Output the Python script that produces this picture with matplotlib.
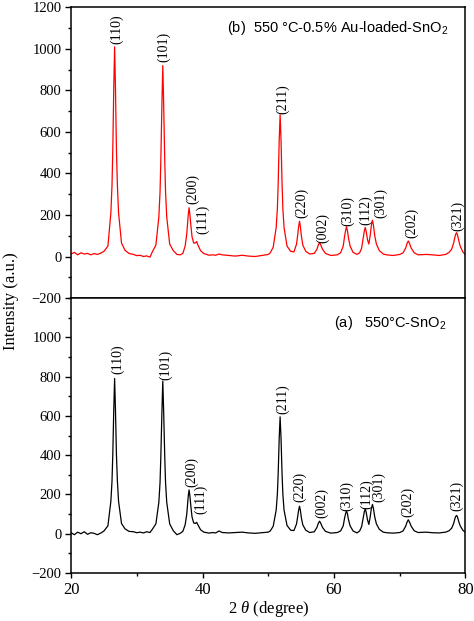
import matplotlib
matplotlib.use("Agg")
import matplotlib.pyplot as plt
from matplotlib.ticker import MultipleLocator

plt.rcParams['font.family'] = ['Liberation Serif', 'DejaVu Serif']
plt.rcParams['mathtext.fontset'] = 'custom'
plt.rcParams['mathtext.rm'] = 'Liberation Serif'
plt.rcParams['mathtext.it'] = 'Liberation Serif:italic'
plt.rcParams['mathtext.sf'] = 'Liberation Sans'

# ---- data: 2theta (degree) and intensity (a.u.) ----
two_theta = [20.0, 20.5, 21.0, 21.5, 22.0, 22.5, 23.0, 23.5, 24.0, 24.5,
             25.0, 25.6, 26.05, 26.22, 26.34, 26.49, 26.62, 26.75, 26.9, 27.04, 27.22, 27.67, 28.2, 28.8,
             29.5, 30.0, 30.5, 31.0, 31.5, 32.0,
             32.35, 32.9, 33.35, 33.53, 33.65, 33.82, 33.95, 34.08, 34.25, 34.37, 34.55, 35.0, 35.55, 36.1,
             36.6, 37.0,
             37.35, 37.6, 37.72, 37.82, 37.95, 38.08, 38.22, 38.4, 38.65, 38.9, 39.1, 39.3, 39.7, 40.2,
             41.0, 41.5, 42.0, 42.5, 43.0, 44.0, 45.0, 46.0, 47.0, 48.0, 49.0, 50.0,
             50.3, 50.75, 51.2, 51.38, 51.5, 51.66, 51.8, 51.94, 52.1, 52.22, 52.4, 52.85, 53.4,
             53.9, 54.3, 54.48, 54.62, 54.75, 54.88, 55.03, 55.25, 55.7, 56.3,
             57.0, 57.4, 57.6, 57.8, 58.0, 58.25, 58.7,
             59.5, 60.5,
             61.0, 61.4, 61.6, 61.76, 61.9, 62.04, 62.2, 62.45, 62.9, 63.5,
             63.9, 64.2, 64.45, 64.62, 64.75, 64.9, 65.1, 65.3, 65.5, 65.68, 65.85, 66.0, 66.2, 66.45,
             66.9, 67.5,
             68.0, 69.0, 70.0,
             70.5, 70.9, 71.1, 71.3, 71.5, 71.75, 72.2, 72.8,
             74.0, 75.0, 76.0, 77.0, 77.5,
             77.9, 78.2, 78.4, 78.52, 78.65, 78.78, 78.95, 79.2, 79.6, 80.0]

# (b) 550 C - 0.5% Au-loaded SnO2
intensity_b = [12, 20, 8, 18, 12, 15, 8, 14, 10, 16,
               25, 50, 210, 340, 510, 810, 1010, 810, 510, 345, 210, 65, 30, 15,
               10, 4, 6, 0, 3, -3,
               22, 55, 190, 310, 460, 740, 920, 740, 460, 310, 190, 60, 28, 10,
               8, 15,
               50, 110, 160, 200, 235, 200, 150, 95, 65, 65, 72, 55, 28, 14,
               6, 8, 6, 12, 8, 5, 2, 6, 2, 0, 5, 10,
               18, 45, 140, 230, 345, 560, 683, 560, 345, 230, 140, 50, 25,
               22, 60, 105, 145, 170, 145, 100, 55, 25, 12,
               15, 35, 55, 67, 55, 35, 15,
               5, 8,
               18, 50, 95, 125, 143, 125, 90, 50, 20, 10,
               18, 40, 90, 125, 140, 120, 80, 60, 100, 150, 175, 150, 100, 60,
               28, 12,
               8, 5, 10,
               18, 40, 62, 75, 62, 40, 18, 8,
               10, 8, 5, 10, 20,
               35, 65, 95, 108, 115, 105, 80, 50, 22, 8]

# (a) 550 C - SnO2
intensity_a = [5, -5, 8, 0, 10, -3, 5, 2, -5, 3,
               14, 40, 165, 265, 400, 630, 790, 630, 400, 270, 165, 52, 25, 12,
               10, 5, 8, 4, 10, 6,
               22, 50, 160, 260, 390, 625, 777, 625, 390, 260, 160, 50, 15, -5,
               2, 12,
               45, 100, 150, 190, 223, 190, 140, 85, 55, 52, 58, 45, 20, 8,
               3, 6, 4, 14, 6, 4, 6, 8, 4, 2, 5, 8,
               14, 38, 120, 200, 300, 485, 595, 485, 300, 200, 120, 42, 18,
               16, 50, 88, 120, 140, 120, 82, 45, 18, 6,
               10, 32, 52, 64, 52, 32, 12,
               3, 6,
               14, 40, 78, 102, 115, 102, 72, 40, 14, 4,
               14, 36, 82, 113, 127, 108, 70, 47, 85, 128, 149, 128, 85, 50,
               22, 8,
               5, 3, 6,
               14, 38, 58, 71, 58, 38, 15, 6,
               8, 5, 4, 8, 15,
               28, 52, 78, 88, 93, 86, 65, 40, 18, 6]

hkl = ['(110)', '(101)', '(200)', '(111)', '(211)', '(220)', '(002)',
       '(310)', '(112)', '(301)', '(202)', '(321)']
b_lab_x = [26.87, 34.13, 38.46, 40.08, 52.19, 55.09, 58.29, 62.1, 64.85, 67.03, 71.87, 78.83]
b_lab_y = [1024, 936, 255, 110, 688, 186, 66, 148, 154, 186, 90, 123]
a_lab_x = [27.03, 34.36, 38.4, 39.67, 52.2, 54.73, 58.12, 61.9, 64.94, 66.86, 71.25, 78.68]
a_lab_y = [814, 782, 240, 101, 608, 160, 81, 115, 127, 160, 84, 115]

title_b = r'(b)  550 °C-0.5% Au-loaded-SnO$_\mathsf{2}$'
title_a = r'(a)   550°C-SnO$_\mathsf{2}$'

# ---- figure ----
fig = plt.figure(figsize=(4.74, 6.21), dpi=100)
ax_b = fig.add_axes([0.150, 0.5201, 0.832, 0.4679])
ax_a = fig.add_axes([0.150, 0.0773, 0.832, 0.4428])

for ax, ys, col, lx, ly in [(ax_b, intensity_b, '#ff0000', b_lab_x, b_lab_y),
                             (ax_a, intensity_a, 'black', a_lab_x, a_lab_y)]:
    ax.plot(two_theta, ys, color=col, lw=0.9)
    ax.set_xlim(20, 80)
    ax.set_ylim(-200, 1200)
    ax.yaxis.set_major_locator(MultipleLocator(200))
    ax.yaxis.set_minor_locator(MultipleLocator(100))
    ax.xaxis.set_major_locator(MultipleLocator(20))
    ax.xaxis.set_minor_locator(MultipleLocator(10))
    ax.tick_params(axis='y', which='major', direction='out', length=4, width=1,
                   labelsize=10.5, pad=3)
    ax.tick_params(axis='y', which='minor', direction='out', length=2.5, width=1)
    ax.tick_params(axis='x', which='major', direction='out', length=3.5, width=1,
                   labelsize=12, pad=3)
    ax.tick_params(axis='x', which='minor', direction='out', length=2, width=1)
    for s in ax.spines.values():
        s.set_linewidth(1.1)
    for t, x, y in zip(hkl, lx, ly):
        ax.text(x, y, t, rotation=90, ha='center', va='bottom', fontsize=10)

ax_b.tick_params(axis='x', which='both', bottom=False, labelbottom=False)
ax_a.set_yticks([-200, 0, 200, 400, 600, 800, 1000])
ax_a.set_ylim(-200, 1200)

ax_b.text(0.395, 0.928, title_b, transform=ax_b.transAxes, ha='left', va='center',
          fontsize=10.5, family='Liberation Sans')
ax_a.text(0.666, 0.91, title_a, transform=ax_a.transAxes, ha='left', va='center',
          fontsize=10.5, family='Liberation Sans')

ax_a.set_xlabel(r'2 $\theta$ (degree)', fontsize=12, labelpad=1)
fig.text(0.024, 0.515, 'Intensity (a.u.)', rotation=90, ha='center', va='center', fontsize=12)

fig.savefig('out.png', dpi=100)
